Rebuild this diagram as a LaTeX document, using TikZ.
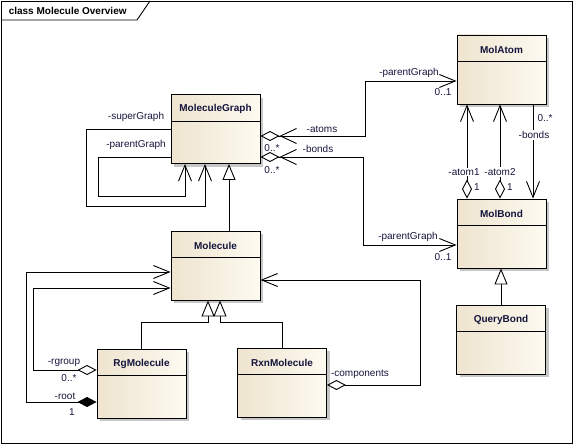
\documentclass[tikz,border=0pt]{standalone}
\usepackage{fontspec}
\setmainfont{Liberation Sans}
\usetikzlibrary{arrows.meta,calc,shadows}
\definecolor{boxlight}{RGB}{253,250,241}
\definecolor{boxdark}{RGB}{238,228,207}
\definecolor{labelcol}{RGB}{20,20,60}
\tikzset{
	barb/.tip={Straight Barb[length=16pt,width=13pt]},
	diabarb/.tip={Straight Barb[length=16pt,width=15pt] Diamond[fill=white,length=19pt,width=10pt]},
	hollowdia/.tip={Diamond[fill=white,length=19pt,width=10pt]},
	soliddia/.tip={Diamond[length=19pt,width=10pt]},
	gentri/.tip={Triangle[fill=white,length=16pt,width=13pt]}
}
\begin{document}
\begin{tikzpicture}[x=1pt,y=-1pt,line width=0.9pt,
	font=\fontsize{10}{12}\selectfont,
	classbox/.style={draw,minimum width=89pt,minimum height=69pt,left color=boxdark,right color=boxlight,
		drop shadow={shadow xshift=3pt,shadow yshift=-3pt,fill=black!22,opacity=1}},
	classname/.style={font=\fontsize{10}{12}\selectfont\bfseries,text=labelcol},
	lbl/.style={text=labelcol,inner sep=1pt}]
	\useasboundingbox (0,0) rectangle (573,444);
	\draw (1,1) rectangle (572,443);
	\draw (1,20) -- (137,20) -- (150,1);
	\node [anchor=west,font=\fontsize{10}{12}\selectfont\bfseries] (title) at (5,11) {class Molecule Overview};
	
	\foreach \n/\x/\y/\t in {MolGraph/215.5/129/MoleculeGraph, MolAtom/501.5/69.5/MolAtom, MolBond/501.5/233.5/MolBond, QueryBond/501/339.5/QueryBond, Molecule/215.5/265.5/Molecule, RgMol/141.5/383.5/RgMolecule, RxnMol/282/382.5/RxnMolecule}
	{
		\node [classbox] (\n) at (\x,\y) {};
		\node [classname] (\n-name) at ($(\n.north)+(0,15)$) {\t};
		\draw (\n.north west) ++(0,27) -- ++(89,0);
	}
	
	% associations
	\draw [-barb] (MolGraph.west) -| (86,206) -| ($(MolGraph.south)+(-10.5,0)$);
	\draw [-barb] ($(MolGraph.west)+(0,28)$) -| (98,196) -| ($(MolGraph.south)+(-30.5,0)$);
	\draw [diabarb-barb] ($(MolGraph.east)+(0,7)$) -| (365,81) -- ($(MolAtom.west)+(0,11.5)$);
	\draw [diabarb-barb] ($(MolGraph.east)+(0,28)$) -| (363,245) -- ($(MolBond.west)+(0,11.5)$);
	\draw [hollowdia-barb] ($(MolBond.north)+(-34.5,0)$) -- ($(MolAtom.south)+(-34.5,0)$);
	\draw [hollowdia-barb] ($(MolBond.north)+(-1.5,0)$) -- ($(MolAtom.south)+(-1.5,0)$);
	\draw [-barb] ($(MolAtom.south)+(31.5,0)$) -- ($(MolBond.north)+(31.5,0)$);
	\draw [hollowdia-barb] ($(RgMol.west)+(0,-13.5)$) -| (33,288) -- ($(Molecule.west)+(0,22.5)$);
	\draw [soliddia-barb] ($(RgMol.west)+(0,18.5)$) -| (26,272) -- ($(Molecule.west)+(0,6.5)$);
	\draw [hollowdia-barb] ($(RxnMol.east)+(0,2.5)$) -| (420,280) -- ($(Molecule.east)+(0,14.5)$);
	
	% generalizations
	\draw [-gentri] ($(Molecule.north)+(13.5,0)$) -- ($(MolGraph.south)+(13.5,0)$);
	\draw [-gentri] (QueryBond.north) -- (QueryBond.north |- MolBond.south);
	\draw [-gentri] (RgMol.north) |- ($(Molecule.south)+(-7.5,22)$) -- ($(Molecule.south)+(-7.5,0)$);
	\draw [-gentri] (RxnMol.north) |- ($(Molecule.south)+(4.5,22)$) -- ($(Molecule.south)+(4.5,0)$);
	
	% role names and multiplicities
	\node [lbl] (superGraph) at (136,117) {-superGraph};
	\node [lbl] (selfParent) at (136,145) {-parentGraph};
	\node [lbl] (atoms) at (322,129) {-atoms};
	\node [lbl] (atomsMult) at (272,148) {0..*};
	\node [lbl] (graphBonds) at (318,149) {-bonds};
	\node [lbl] (graphBondsMult) at (272,170) {0..*};
	\node [lbl] (atomParent) at (409,73) {-parentGraph};
	\node [lbl] (atomParentMult) at (443,92) {0..1};
	\node [lbl] (bondParent) at (408,237) {-parentGraph};
	\node [lbl] (bondParentMult) at (443,257) {0..1};
	\node [lbl,fill=white] (atomOne) at (464,172) {-atom1};
	\node [lbl,fill=white] (atomTwo) at (500,172) {-atom2};
	\node [lbl] (atomOneMult) at (477,187) {1};
	\node [lbl] (atomTwoMult) at (510,187) {1};
	\node [lbl] (atomBondsMult) at (545,118) {0..*};
	\node [lbl,fill=white] (atomBonds) at (534,135) {-bonds};
	\node [lbl] (rgroup) at (64,363) {-rgroup};
	\node [lbl] (rgroupMult) at (69,378) {0..*};
	\node [lbl] (root) at (65,396) {-root};
	\node [lbl] (rootMult) at (72,412) {1};
	\node [lbl] (components) at (360,374) {-components};
\end{tikzpicture}
\end{document}
